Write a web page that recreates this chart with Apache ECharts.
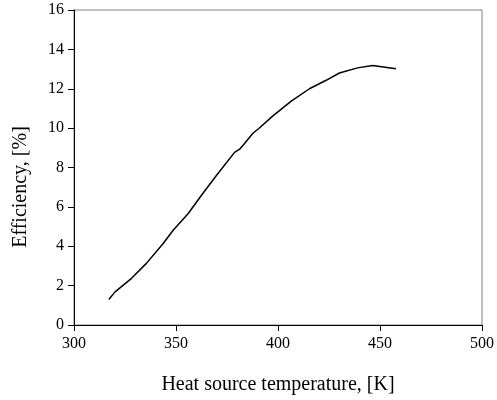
<!DOCTYPE html>
<html>
<head>
<meta charset="utf-8">
<script src="https://cdn.jsdelivr.net/npm/echarts@6/dist/echarts.min.js"></script>
<style>
  html, body { margin: 0; padding: 0; background: #fff; }
  #chart { width: 497px; height: 400px; }
</style>
</head>
<body>
<div id="chart"></div>
<script>
// values
var temps = [317.1, 320.0, 328.2, 335.5, 343.7, 348.6, 355.9, 362.4, 369.8, 378.7, 381.2,
             383.6, 387.7, 390.6, 397.5, 406.5, 415.4, 423.6, 430.1, 439.0, 446.4, 457.8];
var efficiency = [1.30, 1.67, 2.37, 3.13, 4.14, 4.81, 5.65, 6.58, 7.59, 8.77, 8.93,
                  9.22, 9.74, 9.98, 10.62, 11.37, 12.0, 12.43, 12.8, 13.06, 13.18, 13.01];
var xTitle = 'Heat source temperature, [K]';
var yTitle = 'Efficiency, [%]';

var font = 'Liberation Serif, Times New Roman, serif';
var chart = echarts.init(document.getElementById('chart'), null, { renderer: 'canvas' });

var points = [];
for (var i = 0; i < temps.length; i++) {
  points.push([temps[i], efficiency[i]]);
}

var option = {
  backgroundColor: '#fff',
  animation: false,
  grid: {
    left: 74, right: 14, top: 10, bottom: 73,
    show: true, borderColor: '#808080', borderWidth: 1
  },
  xAxis: {
    type: 'value',
    min: 300, max: 500, interval: 50,
    name: xTitle,
    nameLocation: 'middle',
    nameGap: 50,
    nameTextStyle: { fontFamily: font, fontSize: 20, color: '#000' },
    axisLine: { show: true, lineStyle: { color: '#000', width: 1 } },
    axisTick: { show: true, length: 6, lineStyle: { color: '#000' } },
    axisLabel: { fontFamily: font, fontSize: 16, color: '#000', margin: 11 },
    splitLine: { show: false }
  },
  yAxis: {
    type: 'value',
    min: 0, max: 16, interval: 2,
    axisLine: { show: true, lineStyle: { color: '#000', width: 1 } },
    axisTick: { show: true, length: 6, lineStyle: { color: '#000' } },
    axisLabel: { fontFamily: font, fontSize: 16, color: '#000', margin: 10 },
    splitLine: { show: false }
  },
  graphic: [{
    type: 'text',
    x: 21, y: 187,
    rotation: Math.PI / 2,
    style: {
      text: yTitle,
      fontFamily: font, fontSize: 20, fill: '#000',
      align: 'center', verticalAlign: 'middle'
    }
  }],
  series: [{
    type: 'line',
    data: points,
    showSymbol: false,
    smooth: false,
    lineStyle: { color: '#000', width: 1.5 }
  }]
};

chart.setOption(option);
</script>
</body>
</html>
